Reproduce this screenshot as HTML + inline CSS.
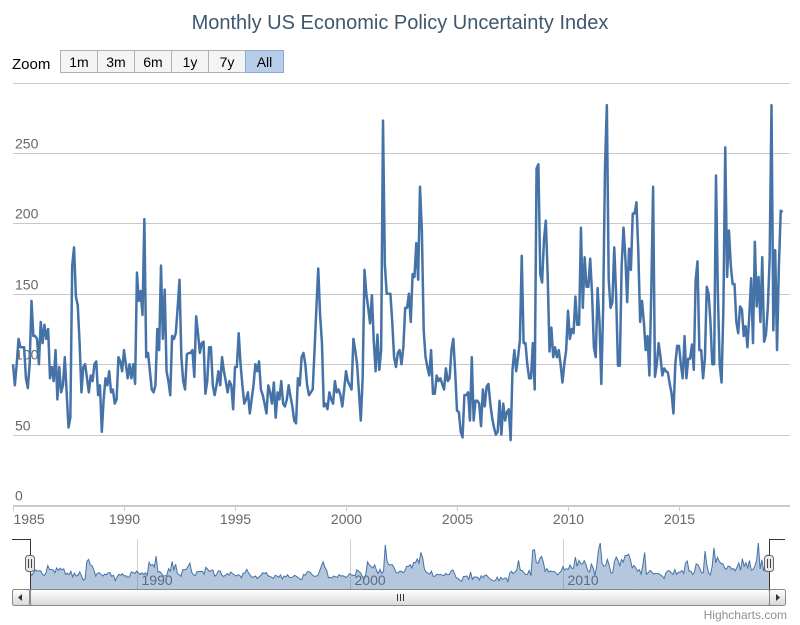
<!DOCTYPE html>
<html><head><meta charset="utf-8">
<style>
body{margin:0;background:#fff;font-family:"Liberation Sans",sans-serif}
#wrap{position:relative;width:800px;height:625px;overflow:hidden}
svg text{font-family:"Liberation Sans",sans-serif}
</style></head>
<body>
<div id="wrap">
<svg id="chart" width="800" height="625"></svg>
</div>
<script>
const startYear = 1985;
const yTicks = [0, 50, 100, 150, 200, 250, 300];
const xTickYears = [1985, 1990, 1995, 2000, 2005, 2010, 2015];
const navTickYears = [1990, 2000, 2010];
const zoomButtons = ['1m','3m','6m','1y','7y','All'];
const values = [
100,85,100,118,112,112,112,90,83,100,145,120,
120,118,100,130,115,128,118,125,90,98,88,110,
75,98,80,85,105,80,55,62,170,183,148,142,
115,80,98,100,90,80,92,88,100,102,78,85,
52,75,90,85,95,80,82,72,75,105,102,95,
110,100,90,100,90,100,86,165,145,152,135,203,
105,108,95,82,80,85,125,110,170,118,153,95,
88,78,120,118,122,140,160,105,88,82,107,108,
108,110,91,134,122,108,115,116,79,88,112,112,
85,78,85,95,85,105,95,88,80,88,85,68,
98,98,122,100,85,72,75,80,65,75,85,100,
95,102,82,78,72,65,85,80,72,87,62,80,
75,88,72,70,75,85,77,70,60,58,90,85,
105,108,100,85,78,80,82,110,140,168,135,115,
70,72,68,80,75,72,88,80,82,78,70,82,
95,88,85,82,118,110,100,80,60,90,167,150,
140,129,149,117,95,121,96,110,273,171,150,150,
150,130,105,98,108,110,100,112,140,140,150,130,
164,162,186,160,226,195,124,105,98,92,110,79,
79,92,88,90,86,82,97,88,90,110,118,95,
67,66,52,48,78,78,80,60,105,60,74,74,
72,56,82,70,84,86,72,62,55,50,52,74,
50,72,60,66,68,46,96,110,95,105,117,177,
115,115,100,90,90,115,82,239,242,164,158,188,
202,164,109,126,105,112,105,110,100,87,100,110,
138,118,125,122,148,128,128,197,140,176,155,155,
175,150,112,105,154,131,86,140,240,284,160,140,
144,183,150,99,99,170,197,176,144,182,167,207,
207,215,180,130,145,130,110,120,92,150,226,91,
100,115,105,92,97,95,94,86,79,65,100,113,
113,100,90,120,90,104,104,114,96,160,173,110,
110,90,104,155,150,130,100,100,234,150,100,87,
140,254,162,195,170,157,157,130,122,141,139,120,
127,112,135,161,115,187,141,162,130,176,116,121,
140,175,284,124,181,110,170,209,208
];

const NS='http://www.w3.org/2000/svg';
const svg=document.getElementById('chart');
function mk(tag,attrs,parent){const e=document.createElementNS(NS,tag);for(const k in attrs)e.setAttribute(k,attrs[k]);(parent||svg).appendChild(e);return e;}

const X0=13, X1=790, PX_PER_YEAR=22.2;
function xMain(yr){return X0+(yr-startYear)*PX_PER_YEAR;}
function yMain(v){return 505-v*1.408;}
const n=values.length;
const endYr=startYear+(n-1)/12;
function xNav(yr){return 30+(yr-startYear)/(endYr-startYear)*739;}
function yNav(v){return 589-v*0.162;}

const t=mk('text',{x:400,y:29,'text-anchor':'middle','font-size':'20',fill:'#3E576F'});
t.textContent='Monthly US Economic Policy Uncertainty Index';



const zl=mk('text',{x:12,y:69,'font-size':'15',fill:'#000'});
zl.textContent='Zoom';


const bw=[37,37,37,37,37,38];let bx=60;
zoomButtons.forEach((b,i)=>{
  const g=mk('g',{});
  
  
  const sel=b==='All';
  mk('rect',{x:bx+0.5,y:50.5,width:bw[i],height:22,fill:sel?'#b7cde9':'#f4f4f4',stroke:sel?'#8aaad4':'#b0b0b0'},g);
  const tx=mk('text',{x:bx+bw[i]/2+0.5,y:67,'text-anchor':'middle','font-size':'14',fill:'#000'},g);
  tx.textContent=b;
  bx+=bw[i];
});

yTicks.forEach(v=>{
  const y=Math.round(yMain(v))+0.5;
  const gl=mk('line',{x1:X0,x2:X1,y1:y,y2:y,stroke:'#c8c8c8','stroke-width':1});
  
  
  if(v<300){
    const lb=mk('text',{x:15,y:y-5,'font-size':'14',fill:'#666'});
    lb.textContent=v;
    
    
  }
});
const ax=mk('line',{x1:X0,x2:X1,y1:506.5,y2:506.5,stroke:'#c0d0e0'});


xTickYears.forEach((yr,i)=>{
  const x=Math.round(xMain(yr))+0.5;
  mk('line',{x1:x,x2:x,y1:506,y2:511,stroke:'#c0d0e0'});
  const lb=mk('text',{x:i===0?x:x,y:524,'text-anchor':i===0?'start':'middle','font-size':'14',fill:'#666'});
  lb.textContent=yr;
  
  
});

let d='';
values.forEach((v,i)=>{d+=(i?'L':'M')+xMain(startYear+i/12).toFixed(2)+','+yMain(v).toFixed(2);});
const line=mk('path',{d:d,fill:'none',stroke:'#4572A7','stroke-width':2.5,'stroke-linejoin':'round'});



navTickYears.forEach(yr=>{
  const x=Math.round(xNav(yr))+0.5;
  mk('line',{x1:x,x2:x,y1:539,y2:589,stroke:'#d0d0d0'});
  const lb=mk('text',{x:x+4,y:585,'font-size':'14',fill:'#666'});
  lb.textContent=yr;
  
  
});
let nd='',pts=[];
values.forEach((v,i)=>{pts.push(xNav(startYear+i/12).toFixed(2)+','+yNav(v).toFixed(2));});
nd='M'+pts.join('L');
const area=mk('path',{d:nd+'L'+xNav(endYr)+',589L30,589Z',fill:'rgba(69,114,167,0.4)',stroke:'none'});


mk('path',{d:nd,fill:'none',stroke:'#4572A7','stroke-width':1});
const outline=mk('path',{d:'M12,539.5H30.5V589.5H769.5V539.5H785',fill:'none',stroke:'#333','stroke-width':1});


[30,769].forEach((hx,i)=>{
  const g=mk('g',{});
  
  
  mk('rect',{x:hx-4.5,y:555.5,width:9,height:16,rx:3,fill:'#ebe7e8',stroke:'#666'},g);
  mk('line',{x1:hx-1.5,x2:hx-1.5,y1:559,y2:568,stroke:'#444'},g);
  mk('line',{x1:hx+1.5,x2:hx+1.5,y1:559,y2:568,stroke:'#444'},g);
});

const defs=mk('defs',{});
const lg=mk('linearGradient',{id:'sg',x1:0,y1:0,x2:0,y2:1},defs);
mk('stop',{offset:'0','stop-color':'#ffffff'},lg);
mk('stop',{offset:'1','stop-color':'#d8d8d8'},lg);
const track=mk('rect',{x:12.5,y:589.5,width:772,height:16,fill:'#eee',stroke:'#888',rx:2});


const thumb=mk('rect',{x:30.5,y:589.5,width:739,height:16,fill:'url(#sg)',stroke:'#888',rx:2});


[397,400,403].forEach(x=>mk('line',{x1:x+0.5,x2:x+0.5,y1:594,y2:601,stroke:'#333'}));
const lbtn=mk('g',{});


mk('rect',{x:12.5,y:589.5,width:17,height:16,fill:'url(#sg)',stroke:'#888',rx:2},lbtn);
mk('path',{d:'M18,597.5L22,594V601Z',fill:'#333'},lbtn);
const rbtn=mk('g',{});


mk('rect',{x:769.5,y:589.5,width:16,height:16,fill:'url(#sg)',stroke:'#888',rx:2},rbtn);
mk('path',{d:'M780,597.5L776,594V601Z',fill:'#333'},rbtn);

const cr=mk('text',{x:787,y:619,'text-anchor':'end','font-size':'12',fill:'#909090'});
cr.textContent='Highcharts.com';


</script>
</body></html>
